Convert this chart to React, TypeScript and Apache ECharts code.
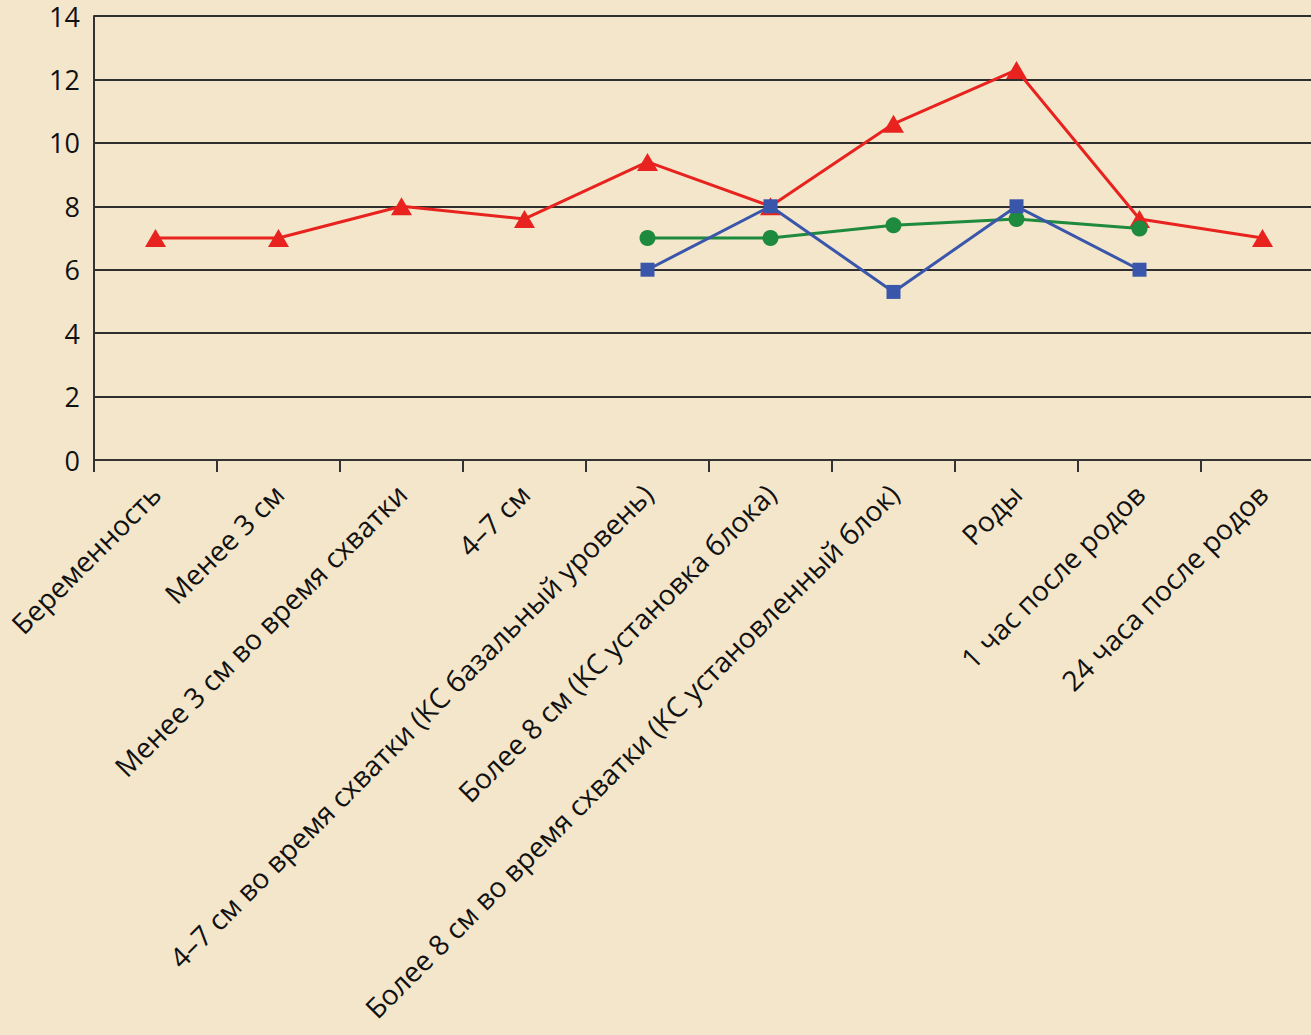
import React, { useEffect, useRef } from "react";
import * as echarts from "echarts";

const categories = [
  "Беременность",
  "Менее 3 см",
  "Менее 3 см во время схватки",
  "4–7 см",
  "4–7 см во время схватки (КС базальный уровень)",
  "Более 8 см (КС установка блока)",
  "Более 8 см во время схватки (КС установленный блок)",
  "Роды",
  "1 час после родов",
  "24 часа после родов",
];

const redValues = [7, 7, 8, 7.6, 9.4, 8, 10.6, 12.3, 7.6, 7];
const blueValues = [null, null, null, null, 6, 8, 5.3, 8, 6, null];
const greenValues = [null, null, null, null, 7, 7, 7.4, 7.6, 7.3, null];

const yTicks = [0, 2, 4, 6, 8, 10, 12, 14];

const FONT = "'Open Sans', 'Noto Sans', sans-serif";
const INK = "#111111";

export default function App() {
  const ref = useRef<HTMLDivElement>(null);

  useEffect(() => {
    if (!ref.current) return;
    const chart = echarts.init(ref.current, undefined, { renderer: "svg" });
    chart.setOption({
      animation: false,
      backgroundColor: "#f3e6ca",
      grid: { left: 94, right: 0, top: 16, bottom: 575, containLabel: false },
      xAxis: {
        type: "category",
        data: categories,
        boundaryGap: true,
        axisLine: { show: true, lineStyle: { color: "#333", width: 2 } },
        axisTick: { show: true, alignWithLabel: false, length: 12, lineStyle: { color: "#333", width: 2 } },
        axisLabel: {
          interval: 0,
          rotate: 45,
          margin: 29,
          color: INK,
          fontFamily: FONT,
          fontSize: 28,
        },
        splitLine: { show: false },
      },
      yAxis: {
        type: "value",
        min: yTicks[0],
        max: yTicks[yTicks.length - 1],
        interval: 2,
        axisLine: { show: true, lineStyle: { color: "#333", width: 2 } },
        axisTick: { show: false },
        axisLabel: {
          margin: 14,
          color: INK,
          fontFamily: FONT,
          fontSize: 27,
          lineHeight: 20,
          verticalAlign: "middle",
        },
        splitLine: { show: true, lineStyle: { color: "#2e2e2e", width: 2 } },
      },
      series: [
        {
          type: "line",
          data: greenValues,
          symbol: "circle",
          symbolSize: 16,
          lineStyle: { color: "#1d8a3d", width: 3 },
          itemStyle: { color: "#1d8a3d" },
          z: 2,
        },
        {
          type: "line",
          data: blueValues,
          symbol: "rect",
          symbolSize: 14,
          lineStyle: { color: "#3a56ab", width: 3 },
          itemStyle: { color: "#3a56ab" },
          z: 3,
        },
        {
          type: "line",
          data: redValues,
          symbol: "triangle",
          symbolSize: [21, 18],
          lineStyle: { color: "#e8231f", width: 3 },
          itemStyle: { color: "#e8231f" },
          z: 1,
        },
      ],
    });
    return () => chart.dispose();
  }, []);

  return (
    <div
      style={{ position: "fixed", left: 0, top: 0, width: 1311, height: 1035, overflow: "hidden", background: "#f3e6ca" }}
    >
      <div ref={ref} style={{ width: 1324, height: 1035 }} />
    </div>
  );
}
